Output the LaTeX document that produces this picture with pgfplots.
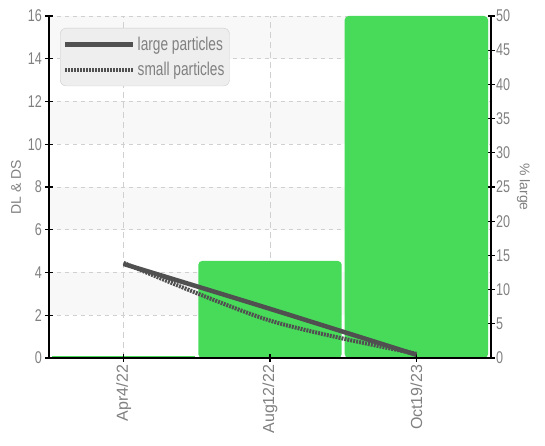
\documentclass[border=0pt]{standalone}
\usepackage{pgfplots}
\pgfplotsset{compat=1.18}
\usepackage{fontspec}
\setmainfont{Liberation Sans}
\newfontfamily\cond{Liberation Sans}[FakeStretch=0.74]
\definecolor{barg}{RGB}{72,219,90}
\definecolor{lineg}{RGB}{80,80,80}
\definecolor{txt}{RGB}{128,128,128}
\definecolor{band}{RGB}{248,248,248}
\definecolor{gridc}{RGB}{208,208,208}
\definecolor{legfill}{RGB}{238,238,238}
\definecolor{legdraw}{RGB}{205,205,205}
\pgfplotsset{
  common/.style={scale only axis, width=442pt, height=342pt, xmin=-0.51, xmax=2.51,
    /pgf/number format/assume math mode=true},
}
\begin{document}
\begin{tikzpicture}
% background bands and grid
\begin{axis}[common, ymin=0, ymax=16, hide axis]
  \fill[band] (axis cs:-0.51,2) rectangle (axis cs:2.51,4);
  \fill[band] (axis cs:-0.51,6) rectangle (axis cs:2.51,8);
  \fill[band] (axis cs:-0.51,10) rectangle (axis cs:2.51,12);
  \fill[band] (axis cs:-0.51,14) rectangle (axis cs:2.51,16);
  \draw[gridc, line width=0.9pt, dash pattern=on 4pt off 4pt] (axis cs:-0.51,2) -- (axis cs:2.51,2);
  \draw[gridc, line width=0.9pt, dash pattern=on 4pt off 4pt] (axis cs:-0.51,4) -- (axis cs:2.51,4);
  \draw[gridc, line width=0.9pt, dash pattern=on 4pt off 4pt] (axis cs:-0.51,6) -- (axis cs:2.51,6);
  \draw[gridc, line width=0.9pt, dash pattern=on 4pt off 4pt] (axis cs:-0.51,8) -- (axis cs:2.51,8);
  \draw[gridc, line width=0.9pt, dash pattern=on 4pt off 4pt] (axis cs:-0.51,10) -- (axis cs:2.51,10);
  \draw[gridc, line width=0.9pt, dash pattern=on 4pt off 4pt] (axis cs:-0.51,12) -- (axis cs:2.51,12);
  \draw[gridc, line width=0.9pt, dash pattern=on 4pt off 4pt] (axis cs:-0.51,14) -- (axis cs:2.51,14);
  \draw[gridc, line width=0.9pt, dash pattern=on 4pt off 4pt] (axis cs:-0.51,16) -- (axis cs:2.51,16);
  \draw[gridc, line width=0.9pt, dash pattern=on 6pt off 4pt] (axis cs:0,0) -- (axis cs:0,16);
  \draw[gridc, line width=0.9pt, dash pattern=on 6pt off 4pt] (axis cs:1,0) -- (axis cs:1,16);
  \draw[gridc, line width=0.9pt, dash pattern=on 6pt off 4pt] (axis cs:2,0) -- (axis cs:2,16);
\end{axis}
% bars on right axis
\begin{axis}[common, ymin=0, ymax=50,
  axis x line=none, axis y line*=right,
  axis line style={-, black, line width=1.1pt},
  ytick={0,5,...,50}, tick align=center, major tick length=7pt,
  tick style={black, line width=1.1pt},
  yticklabel style={font=\cond\fontsize{17}{17}\selectfont, text=txt, xshift=-2pt},
  ylabel={\% large}, ylabel style={rotate=180, font=\fontsize{14}{14}\selectfont, text=txt},
]
  \addplot[ybar, bar width=0.98, fill=barg, draw=none] coordinates {(0,0.35)};
  \addplot[ybar, bar width=0.98, fill=barg, draw=none, rounded corners=4pt] coordinates {(1,14.2) (2,50)};
\end{axis}
% lines on left axis
\begin{axis}[common, ymin=0, ymax=16, name=ax,
  axis x line*=bottom, axis y line*=left,
  axis line style={-, black, line width=1.1pt},
  tick align=center, major tick length=7pt,
  tick style={black, line width=1.1pt},
  xtick={0,1,2}, xticklabels={Apr4/22,Aug12/22,Oct19/23},
  xticklabel style={rotate=90, anchor=east, font=\fontsize{16}{16}\selectfont, text=txt},
  ytick={0,2,...,16},
  yticklabel style={font=\cond\fontsize{17}{17}\selectfont, text=txt},
  ylabel={DL \& DS}, ylabel style={font=\fontsize{14}{14}\selectfont, text=txt},
  legend style={at={(rel axis cs:0.025,0.965)}, anchor=north west, fill=legfill, draw=legdraw,
    rounded corners=6pt, font=\cond\fontsize{18.5}{18.5}\selectfont, text=txt,
    inner xsep=3pt, inner ysep=7pt, row sep=6pt},
  legend cell align=left,
  legend image code/.code={\draw[#1] (0pt,0pt) -- (68pt,0pt);},
]
  \addplot[lineg, line width=4.5pt, smooth] coordinates {(0,4.4) (1,2.3) (2,0.15)};
  \addlegendentry{large particles}
  \addplot[lineg, line width=4pt, dash pattern=on 2pt off 1pt, smooth] coordinates {(0,4.45) (1,1.75) (2,0.2)};
  \addlegendentry{small particles}
\end{axis}
\pgfresetboundingbox
\path[use as bounding box] ([shift={(-49pt,-88pt)}]ax.south west) rectangle ([shift={(54pt,16pt)}]ax.north east);
\end{tikzpicture}
\end{document}
